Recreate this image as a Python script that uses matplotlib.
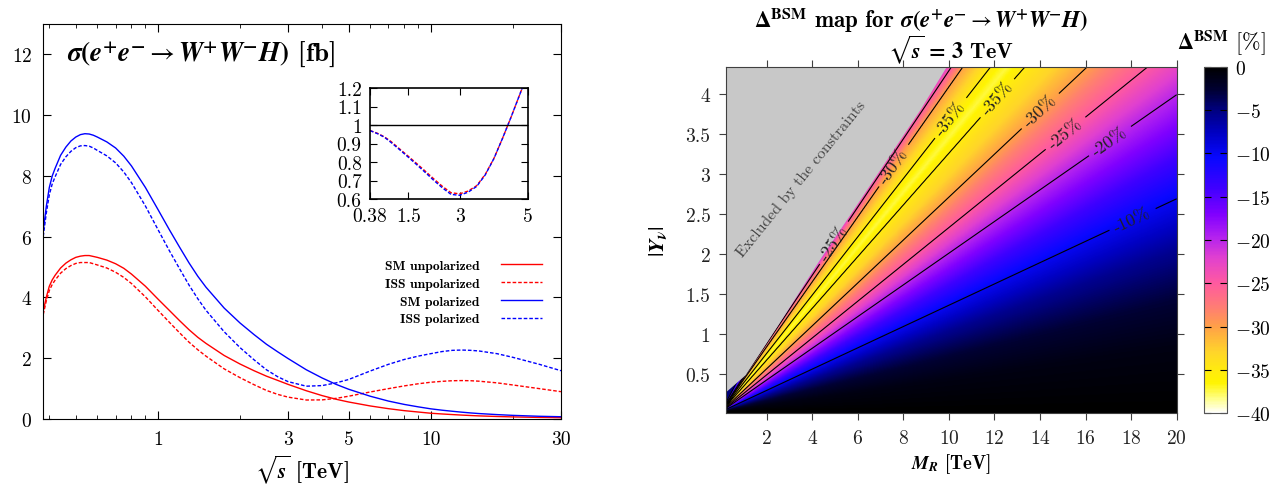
import numpy as np
import matplotlib
matplotlib.use('Agg')
import matplotlib.pyplot as plt
from matplotlib.colors import LinearSegmentedColormap
from matplotlib.ticker import NullFormatter

plt.rcParams['font.family'] = 'cmr10'
plt.rcParams['mathtext.fontset'] = 'cm'
plt.rcParams['axes.formatter.use_mathtext'] = True

# ---------------------------------------------------------------- #
# left panel: cross sections vs sqrt(s)  [fb]
sqrt_s = [0.38, 0.39, 0.40, 0.41, 0.42, 0.44, 0.46, 0.48, 0.50, 0.52, 0.54, 0.56, 0.58, 0.60,
          0.65, 0.70, 0.75, 0.80, 0.90, 1.0, 1.1, 1.2, 1.3, 1.4, 1.5, 1.75, 2.0, 2.25, 2.5, 2.75,
          3.0, 3.5, 4.0, 4.5, 5.0, 6.0, 7.0, 8.0, 9.0, 10, 11, 12, 13, 14, 15, 17.5, 20, 25, 30]
sm_pol = [6.20, 7.00, 7.62, 8.00, 8.25, 8.68, 8.95, 9.15, 9.28, 9.36, 9.39, 9.38, 9.34, 9.28,
          9.12, 8.92, 8.65, 8.33, 7.62, 6.90, 6.24, 5.66, 5.14, 4.70, 4.34, 3.65, 3.16, 2.78, 2.46, 2.21,
          1.99, 1.62, 1.35, 1.14, 0.98, 0.75, 0.59, 0.48, 0.40, 0.335, 0.29, 0.255, 0.225, 0.20, 0.18,
          0.145, 0.12, 0.09, 0.075]
iss_pol = [6.01, 6.78, 7.38, 7.74, 7.97, 8.38, 8.63, 8.81, 8.93, 8.99, 9.00, 8.98, 8.92, 8.84,
           8.66, 8.43, 8.13, 7.78, 7.01, 6.24, 5.55, 4.95, 4.41, 3.96, 3.58, 2.87, 2.35, 1.95, 1.62, 1.39,
           1.23, 1.08, 1.10, 1.19, 1.30, 1.58, 1.80, 1.96, 2.07, 2.15, 2.22, 2.26, 2.27, 2.26, 2.24,
           2.15, 2.03, 1.80, 1.59]
sm_unpol = [3.55, 4.01, 4.37, 4.58, 4.73, 4.97, 5.13, 5.24, 5.32, 5.36, 5.38, 5.38, 5.35, 5.32,
            5.23, 5.11, 4.96, 4.77, 4.37, 3.95, 3.58, 3.24, 2.94, 2.69, 2.49, 2.09, 1.81, 1.59, 1.41, 1.27,
            1.14, 0.93, 0.77, 0.65, 0.56, 0.43, 0.34, 0.275, 0.23, 0.19, 0.166, 0.146, 0.129, 0.115, 0.103,
            0.083, 0.069, 0.052, 0.043]
iss_unpol = [3.44, 3.89, 4.23, 4.43, 4.57, 4.80, 4.95, 5.05, 5.12, 5.15, 5.15, 5.15, 5.11, 5.07,
             4.97, 4.83, 4.66, 4.46, 4.02, 3.58, 3.19, 2.84, 2.53, 2.28, 2.07, 1.65, 1.36, 1.13, 0.94, 0.81,
             0.72, 0.625, 0.63, 0.68, 0.75, 0.89, 1.00, 1.09, 1.16, 1.21, 1.24, 1.26, 1.265, 1.26, 1.245,
             1.19, 1.12, 1.00, 0.90]
series_names = ['SM unpolarized', 'ISS unpolarized', 'SM polarized', 'ISS polarized']

# inset: ISS / SM ratio
ratio_s = [0.38, 0.6, 0.8, 1.0, 1.25, 1.5, 1.75, 2.0, 2.25, 2.5, 2.75, 3.0, 3.25, 3.5, 3.75,
           4.0, 4.25, 4.5, 4.75, 5.0]
ratio_unpol = [0.970, 0.955, 0.936, 0.910, 0.870, 0.831, 0.791, 0.750, 0.708, 0.668, 0.634, 0.628,
               0.643, 0.672, 0.733, 0.818, 0.925, 1.040, 1.160, 1.280]
ratio_pol = [0.970, 0.953, 0.934, 0.905, 0.866, 0.826, 0.785, 0.743, 0.700, 0.660, 0.625, 0.620,
             0.637, 0.668, 0.730, 0.817, 0.925, 1.040, 1.160, 1.280]

# right panel: Delta^BSM [%] as a function of the ray slope |Y_nu| / M_R
ray_slope = [0.0, 0.04, 0.07, 0.10, 0.133, 0.165, 0.198, 0.230, 0.268, 0.295, 0.323, 0.335,
             0.343, 0.353, 0.364, 0.385, 0.406, 0.426, 0.44, 0.48, 0.6]
delta_bsm = [0, -1.0, -2.8, -5.6, -10, -15, -20, -25, -30, -33, -35, -36.5,
             -37.3, -36.5, -35, -32.5, -30, -25, -21, -15, -5]
ray_origin_y = 0.03
# edge of the excluded region
bound_mr = [0.2, 1.05, 2.5, 4.34, 5.81, 8.74, 9.88, 10.0]
bound_y = [0.28, 0.49, 1.12, 1.94, 2.56, 3.81, 4.34, 4.40]
contour_levels = [-35, -30, -25, -20, -10]
cbar_ticks = [-40, -35, -30, -25, -20, -15, -10, -5, 0]

# ---------------------------------------------------------------- #
fig = plt.figure(figsize=(12.83, 4.85), dpi=100)

ax = fig.add_axes([0.0337, 0.134, 0.4035, 0.8144])
dash = (0, (2.6, 1.4))
ax.plot(sqrt_s, sm_unpol, color='red', lw=1, label=series_names[0])
ax.plot(sqrt_s, iss_unpol, color='red', lw=1, ls=dash, label=series_names[1])
ax.plot(sqrt_s, sm_pol, color='blue', lw=1, label=series_names[2])
ax.plot(sqrt_s, iss_pol, color='blue', lw=1, ls=dash, label=series_names[3])
ax.set_xscale('log')
ax.set_xlim(0.38, 30)
ax.set_ylim(0, 13)
ax.set_xticks([1, 3, 5, 10, 30], ['1', '3', '5', '10', '30'])
ax.set_xticks([0.4, 0.5, 0.6, 0.7, 0.8, 0.9, 2, 4, 6, 7, 8, 9, 20], minor=True)
ax.xaxis.set_minor_formatter(NullFormatter())
ax.set_yticks([0, 2, 4, 6, 8, 10, 12])
ax.tick_params(which='both', direction='in', top=True, right=True, labelsize=14, pad=8)
ax.tick_params(which='major', length=6)
ax.tick_params(which='minor', length=3)
ax.set_xlabel(r'$\sqrt{\mathbfit{s}}$ [TeV]', family='cmb10', fontsize=15.5,
              math_fontfamily='stix', labelpad=3)

proc = (r'$\mathbfit{\sigma}\mathbf{(}\mathbfit{e}^{\mathbf{+}}\mathbfit{e}^{\mathbf{-}}'
        r'\rightarrow\mathbfit{W}^{\mathbf{+}}\mathbfit{W}^{\mathbf{-}}\mathbfit{H}\mathbf{)}$')
ax.text(0.045, 0.925, proc + ' [fb]', transform=ax.transAxes, va='center', family='cmb10',
        fontsize=19.5, math_fontfamily='stix')
ax.legend(loc='upper right', bbox_to_anchor=(0.963, 0.405), frameon=False, markerfirst=False,
          borderaxespad=0, borderpad=0, handlelength=3.0, handletextpad=1.6, labelspacing=0.4,
          prop={'family': 'cmb10', 'size': 9.8})

# inset with the ratio
axi = fig.add_axes([0.2884, 0.5876, 0.1231, 0.2289])
axi.plot(ratio_s, ratio_unpol, color='red', lw=1, ls=dash)
axi.plot(ratio_s, ratio_pol, color='blue', lw=1, ls=dash)
axi.axhline(1, color='black', lw=1)
axi.set_xlim(0.38, 5)
axi.set_ylim(0.6, 1.2)
axi.set_xticks([0.38, 1.5, 3, 5], ['0.38', '1.5', '3', '5'])
axi.set_yticks([0.6, 0.7, 0.8, 0.9, 1.0, 1.1, 1.2], ['0.6', '0.7', '0.8', '0.9', '1', '1.1', '1.2'])
axi.tick_params(direction='in', top=True, right=True, labelsize=14, length=5, pad=6)
for sp in axi.spines.values():
    sp.set_linewidth(1.2)

# ---------------------------------------------------------------- #
# right panel: Delta^BSM map
cmap = LinearSegmentedColormap.from_list('bsm', [
    (0.0, '#ffffff'), (1.5 / 40, '#ffff90'), (3.5 / 40, '#fff400'), (5 / 40, '#ffea10'),
    (7 / 40, '#ffd52a'), (10 / 40, '#ffa048'), (12 / 40, '#ff8070'), (15 / 40, '#ff5aa0'),
    (18 / 40, '#e040d0'), (20.5 / 40, '#b020f0'), (23 / 40, '#8000ff'),
    (26 / 40, '#4000ff'), (29.5 / 40, '#0808ff'), (32.5 / 40, '#0000c0'), (35 / 40, '#000080'),
    (37.5 / 40, '#000030'), (1.0, '#000000')])

ax2 = fig.add_axes([0.5656, 0.1458, 0.3515, 0.7146])
mr = np.linspace(0.2, 20, 500)
yv = np.linspace(0.01, 4.34, 400)
MR, YV = np.meshgrid(mr, yv)
field = np.interp((YV - ray_origin_y) / MR, ray_slope, delta_bsm)
im = ax2.imshow(field, extent=[0.2, 20, 0.01, 4.34], origin='lower', aspect='auto',
                cmap=cmap, vmin=-40, vmax=0, interpolation='bilinear', zorder=1)
cs = ax2.contour(MR, YV, field, levels=contour_levels, colors='black', linewidths=0.8,
                 linestyles='solid', zorder=2)
ax2.fill_between(bound_mr, bound_y, 4.5, color='#c8c8c8', lw=0, zorder=3)

label_pos = [(18.1, 2.41), (17.1, 3.40), (15.2, 3.48), (14.2, 3.73), (12.3, 3.90),
             (10.3, 3.65), (7.6, 3.10), (4.9, 2.15)]
labels = ax2.clabel(cs, inline=True, fmt='%1.0f%%', fontsize=13, manual=label_pos, inline_spacing=6)
for t in labels:
    t.set_zorder(5)
    t.set_color('#222222')

ax2.text(3.5, 2.95, 'Excluded by the constraints', rotation=51, ha='center', va='center',
         color='#444444', fontsize=11.5, zorder=4)
ax2.set_xlim(0.2, 20)
ax2.set_ylim(0.01, 4.34)
ax2.set_xticks([2, 4, 6, 8, 10, 12, 14, 16, 18, 20])
ax2.set_yticks([0.5, 1, 1.5, 2, 2.5, 3, 3.5, 4], ['0.5', '1', '1.5', '2', '2.5', '3', '3.5', '4'])
ax2.tick_params(direction='out', top=True, right=True, labelsize=14, length=5, pad=6,
                color='#404040', labelcolor='#222222')
for sp in ax2.spines.values():
    sp.set_color('#404040')
    sp.set_zorder(6)
ax2.set_xlabel(r'$\mathbfit{M}_{\mathbfit{R}}$ [TeV]', family='cmb10', fontsize=13.5,
               math_fontfamily='stix', labelpad=3)
ax2.set_ylabel(r'$|\mathbfit{Y}_{\mathbfit{\nu}}|$', fontsize=16, math_fontfamily='stix', labelpad=12)

fig.text(921 / 1283, 1 - 21 / 485,
         r'$\mathbf{\Delta}^{\mathbf{BSM}}$ map for ' + proc,
         ha='center', va='center', family='cmb10', fontsize=16.5, math_fontfamily='stix')
fig.text(951 / 1283, 1 - 50 / 485, r'$\sqrt{\mathbfit{s}}\,\mathbf{=}\,\mathbf{3}$ TeV',
         ha='center', va='center', family='cmb10', fontsize=16, math_fontfamily='stix')

# colorbar
cax = fig.add_axes([0.9384, 0.1458, 0.01793, 0.7146])
cb = fig.colorbar(im, cax=cax, ticks=cbar_ticks)
cb.ax.set_yticklabels([r'$-40$', r'$-35$', r'$-30$', r'$-25$', r'$-20$', r'$-15$', r'$-10$',
                       r'$-5$', r'$0$'])
cax.tick_params(direction='in', left=True, right=True, length=5, labelsize=14, pad=6)
cb.outline.set_edgecolor('#555555')
fig.text(1221 / 1283, 1 - 43 / 485, r'$\mathbf{\Delta}^{\mathbf{BSM}}$ [%]', ha='center',
         va='center', fontsize=16, math_fontfamily='stix')

fig.savefig('out.png', dpi=100)
